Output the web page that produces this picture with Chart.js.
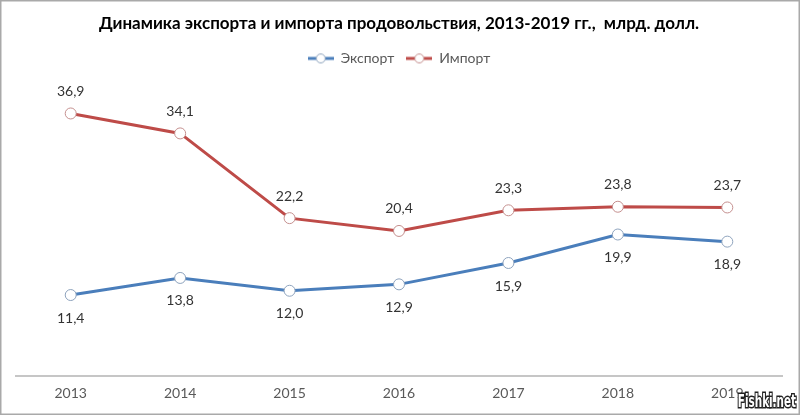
<!DOCTYPE html>
<html lang="ru">
<head>
    <meta charset="UTF-8">
    <title>Динамика экспорта и импорта продовольствия</title>
    <script src="https://cdn.jsdelivr.net/npm/chart.js"></script>
    <style>
        body {
            margin: 0;
            background-color: #fff;
        }
        canvas {
            display: block;
        }
    </style>
</head>
<body>
    <canvas id="tradeChart" width="800" height="415"></canvas>

    <script>
        // data
        const years = ['2013', '2014', '2015', '2016', '2017', '2018', '2019'];
        const exportValues = [11.4, 13.8, 12.0, 12.9, 15.9, 19.9, 18.9];
        const importValues = [36.9, 34.1, 22.2, 20.4, 23.3, 23.8, 23.7];
        const seriesNames = ['Экспорт', 'Импорт'];

        const blue = '#4a7ebb';
        const red = '#be4b48';
        const fontName = 'Lato, "Open Sans", sans-serif';

        // small legend marker: line with an empty circle in the middle
        function legendMarker(color, border) {
            const c = document.createElement('canvas');
            c.width = 26;
            c.height = 12;
            const g = c.getContext('2d');
            g.strokeStyle = color;
            g.lineWidth = 3;
            g.beginPath();
            g.moveTo(0, 6);
            g.lineTo(26, 6);
            g.stroke();
            g.fillStyle = '#fff';
            g.strokeStyle = border;
            g.lineWidth = 1;
            g.beginPath();
            g.arc(13, 6, 4.5, 0, Math.PI * 2);
            g.fill();
            g.stroke();
            return c;
        }

        // extra room under the legend
        const legendGap = {
            id: 'legendGap',
            beforeInit(chart) {
                const fit = chart.legend.fit;
                chart.legend.fit = function () {
                    fit.bind(chart.legend)();
                    this.height += 16;
                };
            }
        };

        // labels above import points, below export points
        const valueLabels = {
            id: 'valueLabels',
            afterDatasetsDraw(chart) {
                const ctx = chart.ctx;
                ctx.save();
                ctx.font = '14px ' + fontName;
                ctx.fillStyle = '#333';
                ctx.textAlign = 'center';
                ctx.textBaseline = 'middle';
                chart.data.datasets.forEach((ds, i) => {
                    const meta = chart.getDatasetMeta(i);
                    const shift = i === 1 ? -22 : 23;
                    meta.data.forEach((pt, j) => {
                        const txt = ds.data[j].toFixed(1).replace('.', ',');
                        ctx.fillText(txt, pt.x, pt.y + shift);
                    });
                });
                ctx.restore();
            }
        };

        // outer frame and the site watermark
        const frame = {
            id: 'frame',
            afterDraw(chart) {
                const ctx = chart.ctx;
                ctx.save();
                ctx.strokeStyle = '#a9a9a9';
                ctx.lineWidth = 1.5;
                ctx.strokeRect(0.75, 0.75, 798.5, 413.5);
                // narrow outlined watermark
                ctx.translate(796, 403);
                ctx.scale(0.68, 1);
                ctx.font = 'bold 17px "DejaVu Sans Condensed", "Liberation Sans", sans-serif';
                ctx.textAlign = 'right';
                ctx.textBaseline = 'middle';
                ctx.lineWidth = 3;
                ctx.strokeStyle = '#222';
                ctx.strokeText('Fishki.net', 0, 0);
                ctx.fillStyle = '#fff';
                ctx.fillText('Fishki.net', 0, 0);
                ctx.restore();
            }
        };

        const ctx = document.getElementById('tradeChart').getContext('2d');

        new Chart(ctx, {
            type: 'line',
            data: {
                labels: years,
                datasets: [
                    {
                        label: seriesNames[0],
                        data: exportValues,
                        borderColor: blue,
                        borderWidth: 3,
                        pointRadius: 5.5,
                        pointBackgroundColor: '#fff',
                        pointBorderColor: '#8ea3bd',
                        pointBorderWidth: 1,
                        pointStyle: 'circle',
                        tension: 0
                    },
                    {
                        label: seriesNames[1],
                        data: importValues,
                        borderColor: red,
                        borderWidth: 3,
                        pointRadius: 5.5,
                        pointBackgroundColor: '#fff',
                        pointBorderColor: '#c48f8e',
                        pointBorderWidth: 1,
                        pointStyle: 'circle',
                        tension: 0
                    }
                ]
            },
            options: {
                responsive: false,
                animation: false,
                layout: {
                    padding: { left: 16, right: 18, top: 0, bottom: 4 }
                },
                plugins: {
                    title: {
                        display: true,
                        text: 'Динамика экспорта и импорта продовольствия, 2013-2019 гг.,  млрд. долл.',
                        color: '#000',
                        font: { family: fontName, size: 17, weight: 'bold' },
                        padding: { top: 13, bottom: 6 }
                    },
                    legend: {
                        display: true,
                        labels: {
                            color: '#595959',
                            font: { family: fontName, size: 14 },
                            usePointStyle: true,
                            boxWidth: 26,
                            boxHeight: 12,
                            pointStyleWidth: 26,
                            padding: 12,
                            generateLabels() {
                                return [
                                    { text: seriesNames[0], pointStyle: legendMarker(blue, '#8ea3bd'), fontColor: '#595959', datasetIndex: 0, lineWidth: 0 },
                                    { text: seriesNames[1], pointStyle: legendMarker(red, '#c48f8e'), fontColor: '#595959', datasetIndex: 1, lineWidth: 0 }
                                ];
                            }
                        }
                    },
                    tooltip: { enabled: false }
                },
                scales: {
                    x: {
                        offset: true,
                        grid: { display: false, drawTicks: false },
                        border: { display: true, color: '#c6c6c6', width: 2 },
                        ticks: {
                            color: '#595959',
                            font: { family: fontName, size: 14 },
                            padding: 9
                        }
                    },
                    y: {
                        display: false,
                        min: 0,
                        max: 40
                    }
                }
            },
            plugins: [legendGap, valueLabels, frame]
        });
    </script>
</body>
</html>
